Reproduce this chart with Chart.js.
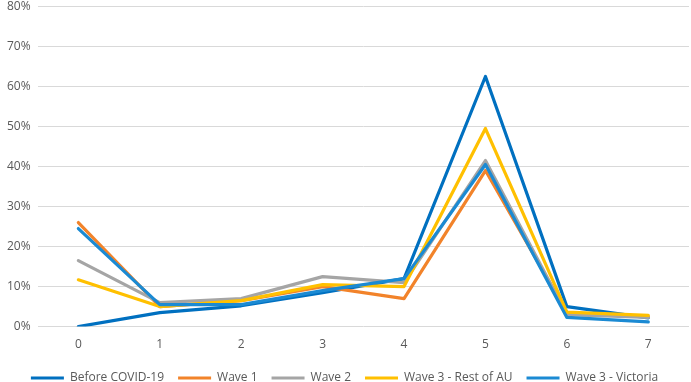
<!DOCTYPE html>
<html>
<head>
<meta charset="utf-8">
<script src="https://cdn.jsdelivr.net/npm/chart.js@4"></script>
<style>
  html, body { margin: 0; padding: 0; background: #fff; }
  #wrap { width: 691px; height: 382px; }
</style>
</head>
<body>
<div id="wrap"><canvas id="chart"></canvas></div>
<script>
const categories = ["0", "1", "2", "3", "4", "5", "6", "7"];
const seriesNames = ["Before COVID-19", "Wave 1", "Wave 2", "Wave 3 - Rest of AU", "Wave 3 - Victoria"];
const beforeCovid = [0.0, 3.5, 5.2, 8.5, 12.0, 62.5, 5.0, 2.2];
const wave1 = [26.0, 5.0, 6.5, 10.0, 7.0, 39.0, 3.5, 2.5];
const wave2 = [16.5, 6.0, 7.0, 12.5, 11.0, 41.5, 3.0, 2.3];
const wave3Rest = [11.7, 5.0, 6.5, 10.5, 10.0, 49.5, 3.6, 2.8];
const wave3Vic = [24.5, 5.5, 5.5, 9.0, 12.0, 40.5, 2.3, 1.2];
const yTicks = [0, 10, 20, 30, 40, 50, 60, 70, 80];

const colors = ["#0070C0", "#F2832A", "#A5A5A5", "#FFC000", "#1B8AD3"];
const values = [beforeCovid, wave1, wave2, wave3Rest, wave3Vic];

const datasets = seriesNames.map(function (name, i) {
    return {
        label: name,
        data: values[i],
        borderColor: colors[i],
        backgroundColor: colors[i],
        borderWidth: 3.2,
        pointRadius: 0,
        tension: 0,
        borderJoinStyle: "round",
        borderCapStyle: "round",
        order: values.length - i
    };
});

Chart.defaults.font.family = "'Open Sans', 'Liberation Sans', sans-serif";
Chart.defaults.color = "#595959";

new Chart(document.getElementById("chart"), {
    type: "line",
    data: { labels: categories, datasets: datasets },
    options: {
        responsive: true,
        maintainAspectRatio: false,
        animation: false,
        layout: { padding: { top: 0, right: 2, bottom: -12, left: 0 } },
        scales: {
            x: {
                offset: true,
                grid: { display: false },
                border: { display: false },
                ticks: { font: { size: 12 }, padding: 3 },
                afterFit: function (axis) {
                    axis.height += 3;
                }
            },
            y: {
                min: 0,
                max: 80,
                afterBuildTicks: function (axis) {
                    axis.ticks = yTicks.map(function (v) { return { value: v }; });
                },
                afterFit: function (axis) {
                    axis.paddingTop = 6.5;
                },
                grid: { color: "#D9D9D9", lineWidth: 1, drawTicks: false },
                border: { display: false },
                ticks: {
                    font: { size: 12 },
                    padding: 7,
                    callback: function (v) { return v + "%"; }
                }
            }
        },
        plugins: {
            legend: {
                position: "bottom",
                labels: {
                    usePointStyle: true,
                    pointStyle: "line",
                    pointStyleWidth: 33,
                    boxHeight: 3,
                    font: { size: 12 },
                    padding: 14,
                    sort: function (a, b) { return a.datasetIndex - b.datasetIndex; }
                }
            },
            tooltip: { enabled: false }
        }
    }
});
</script>
</body>
</html>
